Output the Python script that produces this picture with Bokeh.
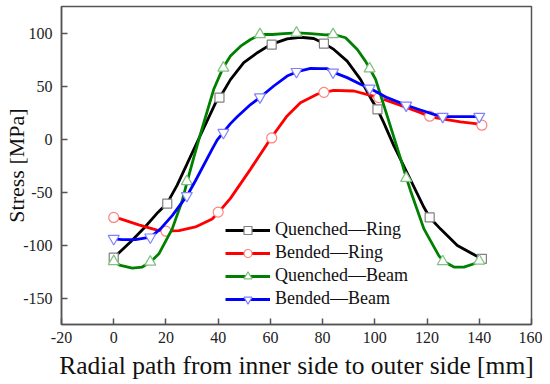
from bokeh.plotting import figure
from bokeh.models import Range1d, FixedTicker, Legend
from bokeh.embed import file_html
from bokeh.resources import INLINE

# ---- marker data ----
qr_x = [0, 20.5, 40.5, 60.5, 80.5, 101, 121, 141]
qr_y = [-112, -61, 39, 89, 90, 28, -74, -113]
br_x = [0, 20, 40, 60.5, 80.5, 101.5, 121, 141]
br_y = [-74, -87, -69, 1, 44, 39, 21.5, 13]
qb_x = [0, 14, 28, 42, 56, 70, 84, 98, 112, 126, 140]
qb_y = [-115.5, -116, -40, 67, 98.6, 100, 98.6, 66.3, -37, -115.6, -115]
bb_x = [0, 14, 28, 42, 56, 70, 84, 98, 112, 126, 140]
bb_y = [-94, -92.6, -53.5, 6, 39.6, 63.5, 63, 47.8, 31.8, 21.2, 21.2]

# ---- smooth curve paths ----
qr_cx = [0, 6.5, 12, 17, 20.5, 24.3, 28, 31, 39, 40.6, 44.7, 49.8, 55, 60, 66.4, 71.5,
         76.6, 80.7, 84.3, 89.4, 94.5, 99, 101, 103.4, 107.3, 111, 118.8, 121, 125.2,
         131.6, 138.6, 141]
qr_cy = [-112, -97, -83, -69, -60.5, -43.5, -24, -8, 34, 39, 56, 72, 81.4, 89, 94.5, 96,
         94.8, 90, 84.5, 73.5, 56.3, 36, 28, 15.5, -6.5, -25, -64.4, -74, -85,
         -100.5, -110, -113]
br_cx = [0, 2.6, 9.6, 16.6, 20, 25, 31.3, 37.7, 40.2, 44.7, 52.4, 60.4, 66.4, 71.5, 77.9,
         80.5, 84.3, 92, 98.3, 101.5, 108.6, 117.5, 121, 125.2, 132.8, 138.6, 141]
br_cy = [-74, -75.4, -81, -86, -87, -86.4, -83, -75.4, -69, -56, -28.4, 1.4, 21.8, 34.3,
         42.2, 44, 45.9, 45.3, 41.2, 39, 32.8, 24.9, 21.2, 19.3, 16.1, 14.6, 13]
qb_cx = [0, 2.6, 7.1, 10.9, 14.1, 17.3, 22.4, 26.2, 28.1, 30.7, 33.2, 38.3, 41.9, 44.7,
         48.6, 52.4, 56.2, 60.7, 65.1, 70.3, 75.4, 81.1, 84.3, 88.8, 93.3, 96.4, 98.1,
         100.3, 104.7, 109.8, 112, 113.7, 118.8, 124.5, 126.4, 130.3, 134.1, 138, 140.2]
qb_cy = [-115.5, -119.3, -121.8, -120.8, -116.1, -108.3, -84.8, -58.5, -40.5, -17, 4.5,
         46.9, 67.3, 78.2, 87.6, 93.9, 98.6, 98.6, 99.5, 100.2, 99.5, 98.3, 98.6, 95.5,
         84.5, 73.5, 66.3, 56.3, 22, -18, -36, -49, -84.8, -110, -115.6, -120.8, -120.8,
         -117.7, -114.6]
bb_cx = [0, 3.2, 8.3, 14.1, 17.9, 22.4, 28.1, 31.3, 37.7, 39.6, 42.2, 44.7, 47.3, 52.4,
         56.2, 61.3, 66.4, 70.3, 75.4, 79.2, 81.8, 84, 89.4, 94.5, 98.1, 104.7, 112.1,
         117.5, 122.6, 126.2, 131.6, 138, 140.2]
bb_cy = [-94.2, -94.9, -94.9, -92.6, -84.8, -72.3, -53.5, -39.4, -9.6, -1, 7, 14.5, 21,
         32.5, 39.6, 50, 59.4, 63.5, 66.6, 66.3, 66.3, 63.1, 57.9, 51.6, 47.8, 39, 31.8,
         27.4, 23.3, 21.2, 21.2, 21.2, 21.2]

labels = ["Quenched\u2014Ring", "Bended\u2014Ring", "Quenched\u2014Beam", "Bended\u2014Beam"]
x_ticks = [-20, 0, 20, 40, 60, 80, 100, 120, 140, 160]
y_ticks = [-150, -100, -50, 0, 50, 100]
x_title = "Radial path from inner side to outer side [mm]"
y_title = "Stress [MPa]"

FONT = "Liberation Serif"
AX = "#555555"

p = figure(frame_width=470, frame_height=318, output_backend="svg", toolbar_location=None,
           x_range=Range1d(-20, 160), y_range=Range1d(-175, 125),
           min_border_left=61, min_border_right=11, min_border_top=6, min_border_bottom=58)
p.xgrid.visible = False
p.ygrid.visible = False
p.background_fill_color = "white"
p.border_fill_color = "white"
p.outline_line_color = AX
p.outline_line_width = 1.5

p.xaxis.ticker = FixedTicker(ticks=x_ticks)
p.yaxis.ticker = FixedTicker(ticks=y_ticks)
p.xaxis.major_label_overrides = {t: str(t) for t in x_ticks}
p.yaxis.major_label_overrides = {t: str(t) for t in y_ticks}
for ax in (p.xaxis[0], p.yaxis[0]):
    ax.major_tick_in = 6
    ax.major_tick_out = 0
    ax.minor_tick_in = 0
    ax.minor_tick_out = 0
    ax.axis_line_color = AX
    ax.axis_line_width = 1.5
    ax.major_tick_line_color = AX
    ax.major_tick_line_width = 1.5
    ax.major_label_text_font = FONT
    ax.major_label_text_font_style = "normal"
    ax.major_label_text_font_size = "16px"
    ax.major_label_text_color = "#222222"
    ax.axis_label_text_font = FONT
    ax.axis_label_text_font_style = "normal"
    ax.axis_label_text_color = "#111111"
p.xaxis.axis_label = x_title
p.xaxis.axis_label_text_font_size = "25.5px"
p.xaxis.major_label_standoff = 7
p.xaxis.axis_label_standoff = 5
p.yaxis.axis_label = y_title
p.yaxis.axis_label_text_font_size = "22px"
p.yaxis.major_label_standoff = 9
p.yaxis.axis_label_standoff = -9

series = [
    (qr_cx, qr_cy, qr_x, qr_y, "black", "square", "#808080", 9),
    (br_cx, br_cy, br_x, br_y, "#ff0000", "circle", "#ff8080", 10),
    (qb_cx, qb_cy, qb_x, qb_y, "#008000", "triangle", "#80c080", 11),
    (bb_cx, bb_cy, bb_x, bb_y, "#0000ff", "inverted_triangle", "#8080ff", 11),
]
items = []
for (cx, cy, mx, my, col, mk, mcol, sz), lab in zip(series, labels):
    r1 = p.line(cx, cy, line_color=col, line_width=2.8)
    r2 = p.scatter(mx, my, marker=mk, size=sz, fill_color="white", line_color=mcol,
                   line_width=1.2)
    items.append((lab, [r1, r2]))

legend = Legend(items=items, location=(164, 15))
legend.glyph_width = 45
legend.glyph_height = 20
legend.label_height = 20
legend.spacing = 2
legend.padding = 0
legend.margin = 0
legend.label_standoff = 5
legend.label_text_font = FONT
legend.label_text_font_size = "18px"
legend.label_text_color = "#111111"
legend.border_line_alpha = 0
legend.background_fill_alpha = 0
p.add_layout(legend, "center")

open("out.html", "w").write(file_html(p, INLINE))
